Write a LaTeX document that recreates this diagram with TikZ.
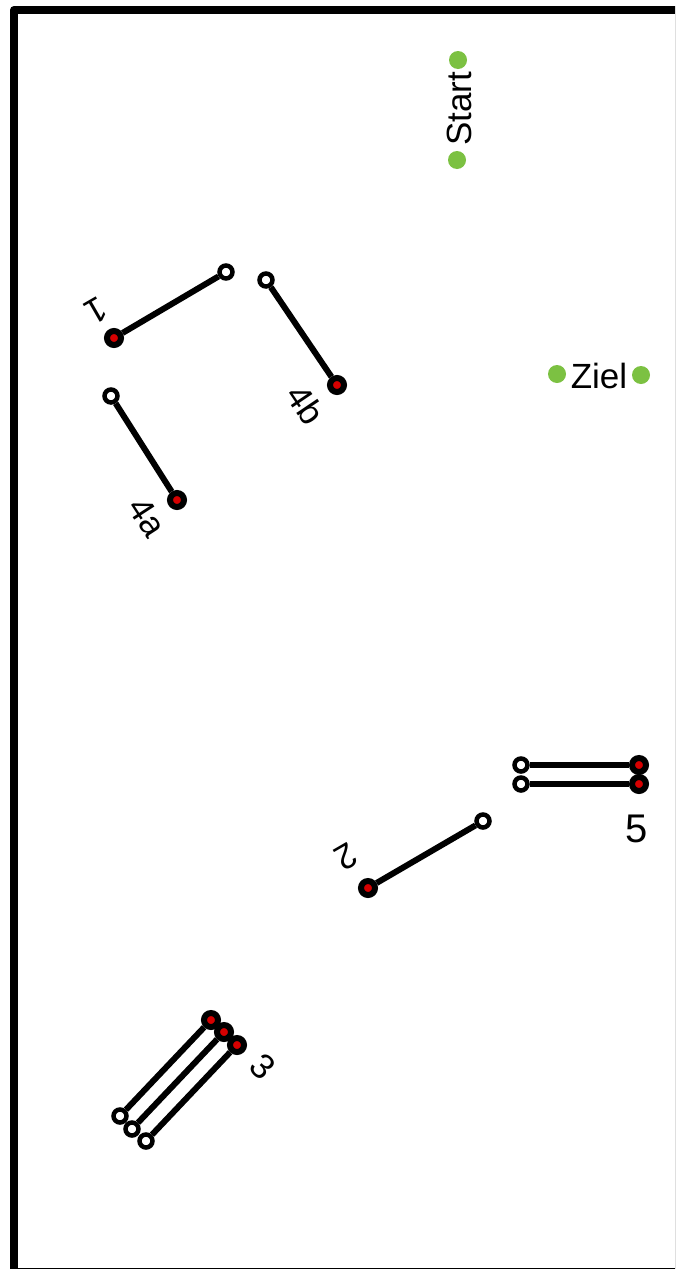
\documentclass[tikz,border=0pt]{standalone}
\usepackage{fontspec}
\setmainfont{Liberation Sans}
\usepackage{tikz}
\usetikzlibrary{arrows,positioning}

\definecolor{zielgreen}{RGB}{124,193,66}
\definecolor{endred}{RGB}{214,0,0}

\tikzset{
  wpoint/.style={circle, draw=black, line width=4.5pt, fill=white, minimum size=13pt, inner sep=0pt},
  rpoint/.style={circle, draw=black, line width=6pt, fill=endred, minimum size=14pt, inner sep=0pt},
  gdot/.style={circle, fill=zielgreen, minimum size=18pt, inner sep=0pt},
  bar/.style={line width=6pt},
  lbl/.style={inner sep=0pt, font=\fontsize{35}{35}\selectfont}
}

\begin{document}
\begin{tikzpicture}[x=1pt, y=-1pt]
				\useasboundingbox (0,0) rectangle (675,1269);
				\begin{scope}
				\clip (0,0) rectangle (675,1269);
				\draw [line width=8pt, line join=round] (14,10) rectangle (679,1272);
				\end{scope}
				
				% start and goal
				\node [gdot] (s1) at (458, 60) {};
				\node [gdot] (s2) at (457, 160) {};
				\node [lbl, rotate=90] (start) at (459, 109) {Start};
				\node [gdot] (z1) at (557, 374) {};
				\node [gdot] (z2) at (641, 375) {};
				\node [lbl] (ziel) at (599, 376) {Ziel};
				
				% bar 1
				\node [rpoint] (r1) at (114, 338) {};
				\node [wpoint] (w1) at (226, 272) {};
				\node [lbl, rotate=210] (l1) at (96, 311) {1};
				
				% bar 4b
				\node [wpoint] (w4b) at (266, 280) {};
				\node [rpoint] (r4b) at (337, 385) {};
				\node [lbl, rotate=-56] (l4b) at (306, 405) {4b};
				
				% bar 4a
				\node [wpoint] (w4a) at (111, 396) {};
				\node [rpoint] (r4a) at (177, 500) {};
				\node [lbl, rotate=-57] (l4a) at (147, 517) {4a};
				
				% bar 5
				\node [wpoint] (w5a) at (521, 765) {};
				\node [rpoint] (r5a) at (639, 765) {};
				\node [wpoint] (w5b) at (521, 784) {};
				\node [rpoint] (r5b) at (639, 784) {};
				\node [lbl, font=\fontsize{40}{40}\selectfont] (l5) at (637, 829) {5};
				
				% bar 2
				\node [rpoint] (r2) at (368, 888) {};
				\node [wpoint] (w2) at (483, 821) {};
				\node [lbl, rotate=210] (l2) at (346, 857) {2};
				
				% bar 3
				\node [rpoint] (r3a) at (211, 1020) {};
				\node [rpoint] (r3b) at (224, 1032) {};
				\node [rpoint] (r3c) at (237, 1045) {};
				\node [wpoint] (w3a) at (120, 1116) {};
				\node [wpoint] (w3b) at (132, 1129) {};
				\node [wpoint] (w3c) at (146, 1141) {};
				\node [lbl, rotate=-44] (l3) at (263, 1067) {3};
				
				\draw [-, bar] (r1) to (w1);
				\draw [-, bar] (w4b) to (r4b);
				\draw [-, bar] (w4a) to (r4a);
				\draw [-, bar] (w5a) to (r5a);
				\draw [-, bar] (w5b) to (r5b);
				\draw [-, bar] (r2) to (w2);
				\draw [-, bar] (r3a) to (w3a);
				\draw [-, bar] (r3b) to (w3b);
				\draw [-, bar] (r3c) to (w3c);
				\end{tikzpicture}
\end{document}
